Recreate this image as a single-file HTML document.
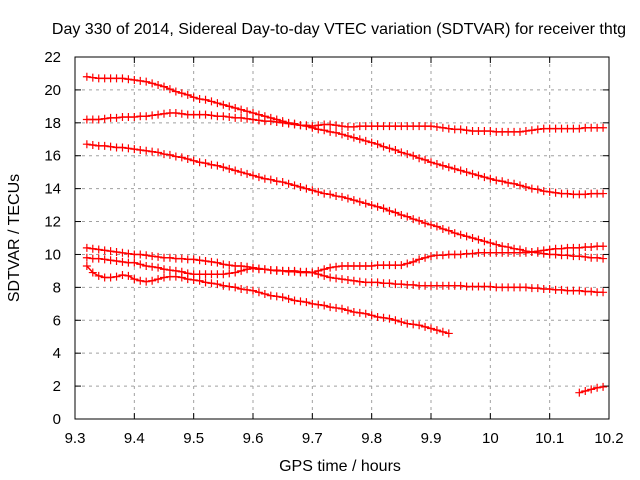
<!DOCTYPE html>
<html><head><meta charset="utf-8"><style>
body{margin:0;background:#fff}
svg{display:block;font-family:"Liberation Sans",sans-serif}
</style></head><body>
<svg id="chart" width="640" height="480" viewBox="0 0 640 480">
<rect width="640" height="480" fill="#fff"/>
<text x="339" y="34" font-size="16" text-anchor="middle">Day 330 of 2014, Sidereal Day-to-day VTEC variation (SDTVAR) for receiver thtg</text>
<text x="340" y="471" font-size="16" text-anchor="middle">GPS time / hours</text>
<text x="19" y="238" font-size="16" text-anchor="middle" transform="rotate(-90 19 238)">SDTVAR / TECUs</text>
<g id="grid"></g><g id="ticks"></g><g id="series"></g>
<rect x="75" y="57" width="534" height="362" fill="none" stroke="#000" stroke-width="1"/>
</svg>
<script>
const xTicks=[9.3,9.4,9.5,9.6,9.7,9.8,9.9,10,10.1,10.2];
const xTickLabels=["9.3","9.4","9.5","9.6","9.7","9.8","9.9","10","10.1","10.2"];
const yTicks=[0,2,4,6,8,10,12,14,16,18,20,22];
const seriesStarts=[9.32,9.32,9.32,9.32,9.32,9.32,10.15];
const seriesA=[20.8,20.75,20.7,20.7,20.7,20.7,20.7,20.65,20.6,20.55,20.5,20.4,20.3,20.2,20.05,19.9,19.8,19.7,19.55,19.45,19.4,19.3,19.2,19.1,19.0,18.9,18.8,18.7,18.6,18.5,18.4,18.3,18.2,18.1,18.0,17.95,17.85,17.8,17.7,17.6,17.55,17.45,17.4,17.3,17.2,17.1,17.0,16.9,16.8,16.7,16.55,16.45,16.35,16.2,16.1,16.0,15.85,15.75,15.6,15.5,15.4,15.3,15.2,15.1,15.0,14.9,14.8,14.7,14.6,14.5,14.45,14.35,14.3,14.2,14.1,14.0,13.95,13.85,13.8,13.75,13.7,13.7,13.65,13.65,13.65,13.7,13.7,13.7];
const seriesB=[18.2,18.2,18.2,18.25,18.3,18.3,18.35,18.35,18.35,18.4,18.4,18.45,18.5,18.55,18.6,18.6,18.55,18.5,18.5,18.5,18.5,18.45,18.4,18.4,18.35,18.3,18.3,18.25,18.2,18.15,18.1,18.1,18.05,18.0,17.95,17.9,17.85,17.85,17.8,17.85,17.9,17.9,17.85,17.8,17.75,17.75,17.8,17.8,17.8,17.8,17.8,17.8,17.8,17.8,17.8,17.8,17.8,17.8,17.8,17.75,17.7,17.65,17.6,17.6,17.55,17.5,17.5,17.5,17.5,17.45,17.45,17.45,17.45,17.45,17.5,17.55,17.6,17.65,17.65,17.65,17.65,17.65,17.65,17.65,17.7,17.7,17.7,17.7];
const seriesC=[16.7,16.65,16.6,16.6,16.55,16.5,16.5,16.45,16.4,16.35,16.3,16.25,16.2,16.1,16.05,15.95,15.9,15.8,15.7,15.6,15.55,15.45,15.4,15.3,15.2,15.1,15.0,14.9,14.8,14.7,14.6,14.55,14.45,14.4,14.3,14.2,14.1,14.0,13.9,13.8,13.7,13.65,13.55,13.5,13.4,13.3,13.2,13.1,13.0,12.9,12.8,12.65,12.55,12.4,12.3,12.15,12.05,11.9,11.8,11.7,11.55,11.45,11.3,11.2,11.1,11.0,10.9,10.8,10.7,10.6,10.5,10.45,10.35,10.3,10.2,10.15,10.1,10.05,10.0,10.0,9.95,9.95,9.9,9.9,9.85,9.8,9.8,9.75];
const seriesD=[10.4,10.35,10.3,10.25,10.2,10.15,10.1,10.05,10.0,10.0,9.95,9.9,9.85,9.8,9.8,9.75,9.75,9.7,9.7,9.65,9.6,9.55,9.5,9.4,9.35,9.3,9.3,9.25,9.2,9.15,9.1,9.05,9.0,9.0,8.95,8.95,8.9,8.9,8.9,9.0,9.1,9.2,9.25,9.3,9.3,9.3,9.3,9.3,9.3,9.35,9.35,9.35,9.35,9.35,9.45,9.55,9.7,9.8,9.9,9.95,9.95,10.0,10.0,10.0,10.05,10.05,10.1,10.1,10.1,10.1,10.1,10.1,10.1,10.1,10.1,10.15,10.2,10.25,10.3,10.35,10.35,10.4,10.4,10.4,10.45,10.45,10.5,10.5];
const seriesE=[9.8,9.75,9.75,9.7,9.65,9.6,9.55,9.5,9.5,9.4,9.3,9.25,9.2,9.1,9.05,9.0,8.95,8.85,8.8,8.8,8.8,8.8,8.8,8.8,8.85,8.9,9.0,9.1,9.15,9.1,9.1,9.05,9.05,9.0,9.0,9.0,8.95,8.95,8.9,8.8,8.7,8.6,8.55,8.5,8.45,8.4,8.35,8.3,8.3,8.3,8.25,8.25,8.2,8.2,8.15,8.15,8.1,8.1,8.1,8.1,8.1,8.1,8.1,8.1,8.05,8.05,8.05,8.05,8.05,8.0,8.0,8.0,8.0,8.0,8.0,7.95,7.95,7.9,7.9,7.85,7.85,7.8,7.8,7.8,7.75,7.75,7.7,7.7];
const seriesF=[9.3,8.9,8.7,8.6,8.6,8.65,8.75,8.7,8.5,8.4,8.35,8.4,8.5,8.6,8.65,8.65,8.6,8.5,8.45,8.4,8.3,8.25,8.2,8.1,8.05,8.0,7.9,7.85,7.8,7.7,7.6,7.5,7.45,7.4,7.3,7.2,7.15,7.1,7.0,6.95,6.9,6.8,6.75,6.7,6.6,6.5,6.45,6.4,6.3,6.2,6.15,6.1,6.0,5.9,5.8,5.75,5.7,5.6,5.5,5.4,5.3,5.2];
const seriesG=[1.6,1.7,1.8,1.9,1.95];
const allSeries=[seriesA,seriesB,seriesC,seriesD,seriesE,seriesF,seriesG];
const seriesNames=["series-a","series-b","series-c","series-d","series-e","series-f","series-g"];
const STEP=0.01;
const X0=75,X1=609,Y0=419,Y1=57;
function xs(v){return X0+(v-9.3)/(10.2-9.3)*(X1-X0);}
function ys(v){return Y0-(v-0)/(22-0)*(Y0-Y1);}
const NS="http://www.w3.org/2000/svg";
function mk(t,a,p){const e=document.createElementNS(NS,t);for(const k in a)e.setAttribute(k,a[k]);p.appendChild(e);return e;}
const grid=document.getElementById('grid'),ticks=document.getElementById('ticks'),ser=document.getElementById('series');
xTicks.forEach((v,i)=>{const x=xs(v);
 if(i>0&&i<xTicks.length-1){const g=mk('line',{x1:x,x2:x,y1:Y1,y2:Y0,stroke:'#a0a0a0','stroke-dasharray':'3,4'},grid);
 
 }
 const t1=mk('line',{x1:x,x2:x,y1:Y0,y2:Y0-6,stroke:'#000'},ticks);
 
 
 const t2=mk('line',{x1:x,x2:x,y1:Y1,y2:Y1+6,stroke:'#000'},ticks);
 
 
 const l=mk('text',{x:x,y:443,'font-size':15,'text-anchor':'middle'},ticks);l.textContent=xTickLabels[i];
 
 
});
yTicks.forEach((v,i)=>{const y=ys(v);
 if(i>0&&i<yTicks.length-1){const g=mk('line',{x1:X0,x2:X1,y1:y,y2:y,stroke:'#a0a0a0','stroke-dasharray':'3,4'},grid);
 
 }
 const t1=mk('line',{x1:X0,x2:X0+6,y1:y,y2:y,stroke:'#000'},ticks);
 
 
 const t2=mk('line',{x1:X1,x2:X1-6,y1:y,y2:y,stroke:'#000'},ticks);
 
 
 const l=mk('text',{x:61,y:y+5,'font-size':15,'text-anchor':'end'},ticks);l.textContent=String(v);
 
 
});
allSeries.forEach((arr,si)=>{
 const g=mk('g',{},ser);
 
 
 const pts=arr.map((v,i)=>[xs(seriesStarts[si]+i*STEP),ys(v)]);
 const pl=mk('polyline',{points:pts.map(p=>p.join(',')).join(' '),fill:'none',stroke:'#f00','stroke-width':1.5},g);
 
 
 pts.forEach(p=>{
  const m=mk('path',{d:`M${p[0]-4},${p[1]}h8M${p[0]},${p[1]-4}v8`,stroke:'#f00','stroke-width':1.2,fill:'none'},g);
  
  
 });
});
</script>
</body></html>
